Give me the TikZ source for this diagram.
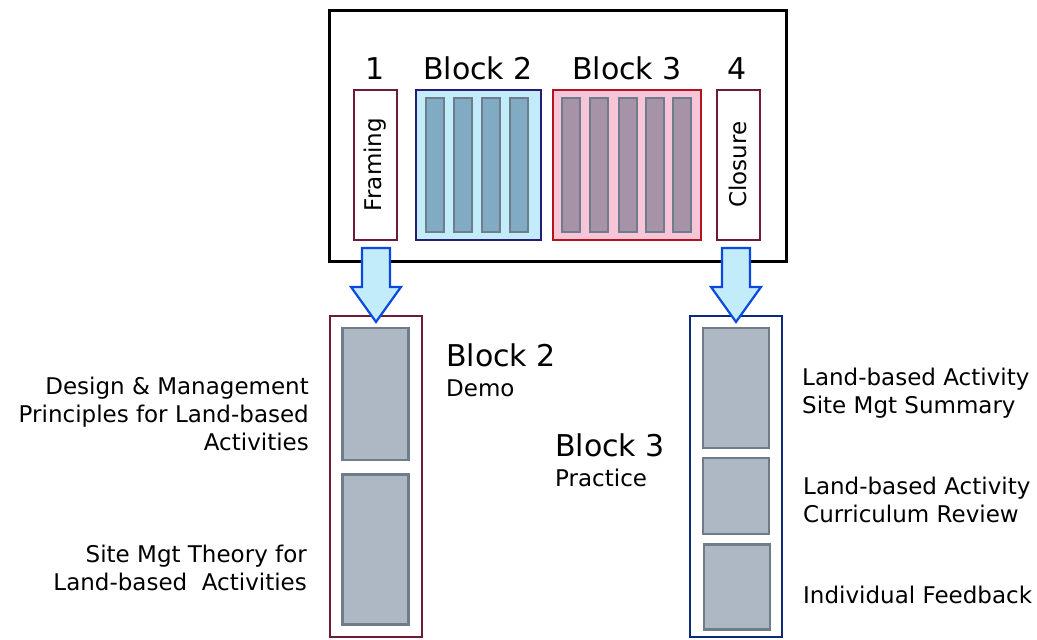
\documentclass[tikz,border=0pt]{standalone}
\usepackage{fontspec}
\setmainfont{DejaVu Sans}
\definecolor{maroonline}{HTML}{6E1A3C}
\definecolor{demoline}{HTML}{2A1A78}
\definecolor{demofill}{HTML}{C2ECFA}
\definecolor{demobar}{HTML}{80ABC2}
\definecolor{practline}{HTML}{B3121E}
\definecolor{practfill}{HTML}{F6C6D8}
\definecolor{practbar}{HTML}{A693A8}
\definecolor{barline}{HTML}{6E7C8C}
\definecolor{slotfill}{HTML}{ADB8C4}
\definecolor{navyline}{HTML}{0B2A7C}
\definecolor{arrowline}{HTML}{0A48E0}

\begin{document}
\begin{tikzpicture}[x=1pt,y=-1pt,
	box/.style={draw=maroonline, line width=2pt, inner sep=0pt},
	bar/.style={draw=barline, line width=2pt, inner sep=0pt, minimum width=18pt, minimum height=134pt},
	slot/.style={draw=barline, fill=slotfill, line width=2.2pt, inner sep=0pt, minimum width=66pt},
	big/.style={font=\fontsize{30}{34}\selectfont, inner sep=0pt},
	lbl/.style={font=\fontsize{23}{28}\selectfont, inner sep=0pt},
	fatarrow/.style={draw=arrowline, fill=demofill, line width=2.2pt, line join=miter}]
		\useasboundingbox (0,0) rectangle (1037,640);
		
		\node[draw, line width=2.2pt, minimum width=457pt, minimum height=251pt] (session) at (558,136) {};
		\node[box, lbl, rotate=90, minimum width=150pt, minimum height=43pt] (framing) at (375,164.5) {Framing};
		\node[box, draw=demoline, fill=demofill, minimum width=125pt, minimum height=150pt] (demo) at (478,164.5) {};
		\foreach \bx [count=\i] in {434.5,462.7,490.9,519.1}
			\node[bar, fill=demobar] (demo\i) at (\bx,164.7) {};
		\node[box, draw=practline, fill=practfill, minimum width=148pt, minimum height=150pt] (pract) at (627.3,164.5) {};
		\foreach \bx [count=\i] in {570.7,598.7,628.3,655.3,682}
			\node[bar, fill=practbar] (pract\i) at (\bx,164.7) {};
		\node[box, lbl, rotate=90, minimum width=150pt, minimum height=43pt] (closure) at (738,164.5) {Closure};
		
		\node[big, anchor=base] (one) at (375,79) {1};
		\node[big, anchor=base] (demotitle) at (478,79) {Block 2};
		\node[big, anchor=base] (practtitle) at (627,79) {Block 3};
		\node[big, anchor=base] (four) at (737,79) {4};
		
		\node[box, line width=2.2pt, minimum width=92pt, minimum height=321pt] (lcol) at (376,476.5) {};
		\node[slot, minimum height=132pt] (lslot1) at (375.5,394) {};
		\node[slot, minimum height=150pt] (lslot2) at (375.5,549.5) {};
		\node[draw=navyline, line width=2.2pt, inner sep=0pt, minimum width=92pt, minimum height=321pt] (rcol) at (736,476.5) {};
		\node[slot, minimum height=120pt] (rslot1) at (736.2,387.8) {};
		\node[slot, minimum height=76pt] (rslot2) at (736.2,495.7) {};
		\node[slot, minimum height=85pt] (rslot3) at (737.2,587) {};
		
		\draw[fatarrow] (lcol.north) ++(0,7) -- ++(-25,-35) -- ++(11,0) -- ++(0,-39) -- ++(28,0) -- ++(0,39) -- ++(11,0) -- cycle;
		\draw[fatarrow] (rcol.north) ++(0,7) -- ++(-25,-35) -- ++(11,0) -- ++(0,-39) -- ++(28,0) -- ++(0,39) -- ++(11,0) -- cycle;
		
		\node[big, anchor=base west] (demohead) at (446,366) {Block 2};
		\node[lbl, anchor=base west] (demosub) at (446,396) {Demo};
		\node[big, anchor=base west] (practhead) at (555,456.7) {Block 3};
		\node[lbl, anchor=base west] (practsub) at (555,486.7) {Practice};
		
		\node[lbl, align=right, anchor=base east] (design) at (309,450.5) {Design \& Management\\Principles for Land-based\\Activities};
		\node[lbl, align=right, anchor=base east] (theory) at (307,590.5) {Site Mgt Theory for\\Land-based\ \ Activities};
		\node[lbl, align=left, anchor=base west] (summary) at (802,413) {Land-based Activity\\Site Mgt Summary};
		\node[lbl, align=left, anchor=base west] (review) at (803,522) {Land-based Activity\\Curriculum Review};
		\node[lbl, anchor=base west] (feedback) at (803,603.3) {Individual Feedback};
	\end{tikzpicture}
\end{document}
